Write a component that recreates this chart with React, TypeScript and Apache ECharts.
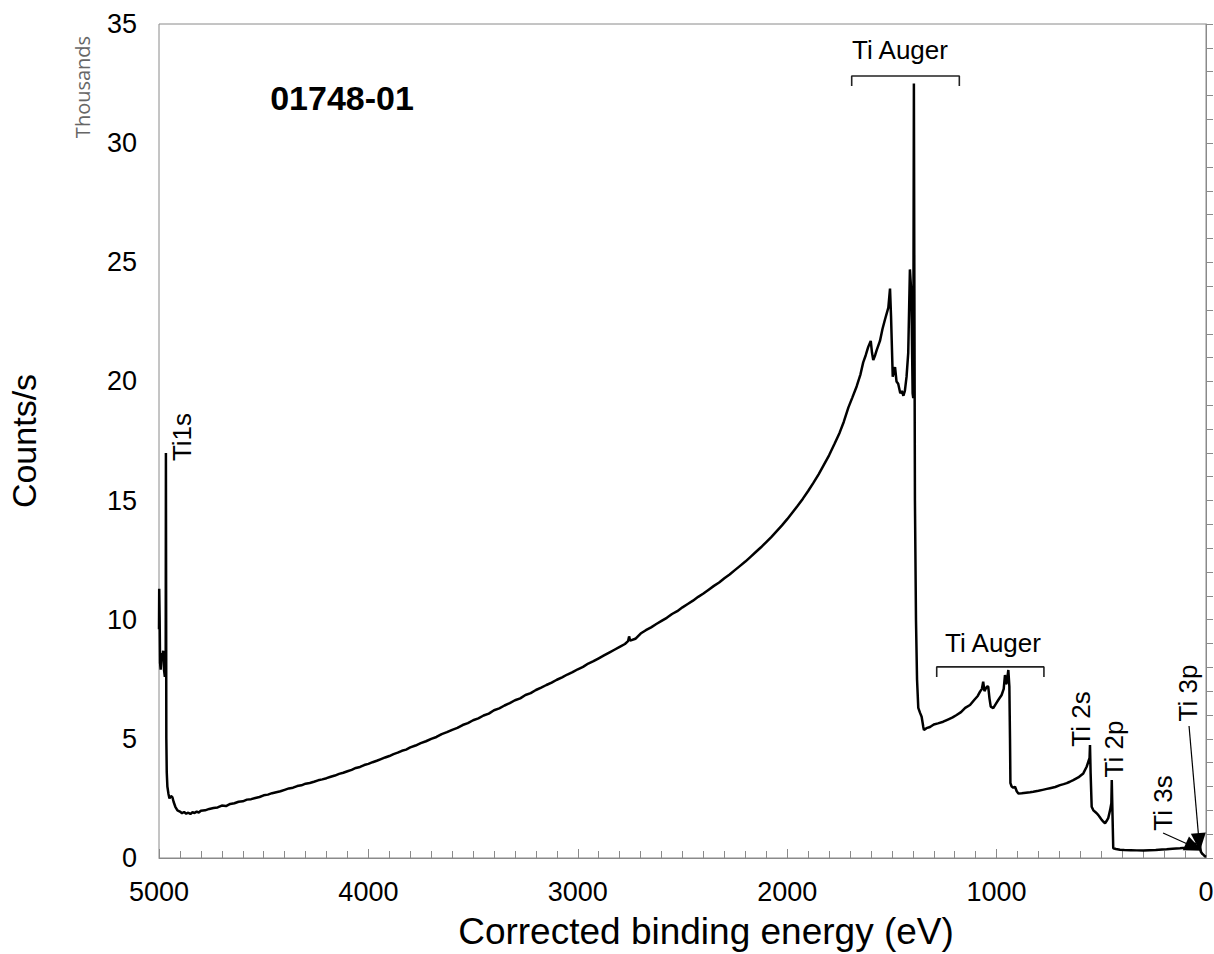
import React, { useEffect, useRef } from "react";
import * as echarts from "echarts";

// Binding energy (eV) and intensity (thousand counts/s)
const energy = [
  5000, 4999, 4997, 4995, 4992, 4988, 4984, 4980, 4976, 4972, 4968, 4967, 4965, 4963, 4960, 4955, 4950, 4943, 4936, 4930,
  4922, 4912, 4900, 4890, 4880, 4870, 4860, 4850, 4840, 4830, 4820, 4810, 4800, 4780, 4760, 4740, 4720, 4700, 4680, 4660,
  4640, 4620, 4600, 4580, 4560, 4540, 4520, 4500, 4480, 4460, 4440, 4420, 4400, 4380, 4360, 4340, 4320, 4300, 4280, 4260,
  4240, 4220, 4200, 4180, 4160, 4140, 4120, 4100, 4080, 4060, 4040, 4020, 4000, 3980, 3960, 3940, 3920, 3900, 3880, 3860,
  3840, 3820, 3800, 3775, 3750, 3725, 3700, 3675, 3650, 3625, 3600, 3575, 3550, 3525, 3500, 3475, 3450, 3425, 3400, 3375,
  3350, 3325, 3300, 3275, 3250, 3225, 3200, 3175, 3150, 3125, 3100, 3075, 3050, 3025, 3000, 2975, 2950, 2925, 2900, 2875,
  2850, 2825, 2800, 2775, 2760, 2755, 2750, 2725, 2700, 2675, 2650, 2625, 2600, 2575, 2550, 2525, 2500, 2475, 2450, 2425,
  2400, 2375, 2350, 2325, 2300, 2275, 2250, 2225, 2200, 2175, 2150, 2125, 2100, 2075, 2050, 2025, 2000, 1975, 1950, 1925,
  1900, 1875, 1850, 1825, 1800, 1775, 1750, 1730, 1708, 1690, 1668, 1650, 1637, 1625, 1613, 1601, 1595, 1589, 1580, 1573,
  1557, 1545, 1533, 1517, 1509, 1504, 1496, 1485, 1478, 1470, 1460, 1453, 1445, 1438, 1430, 1422, 1414, 1407, 1401, 1398,
  1395, 1393, 1390, 1385, 1380, 1374, 1366, 1358, 1350, 1347, 1335, 1318, 1300, 1280, 1255, 1230, 1210, 1191, 1170, 1150,
  1127, 1105, 1090, 1079, 1070, 1064, 1058, 1051, 1044, 1040, 1034, 1028, 1016, 1005, 992, 976, 966, 960, 955, 952,
  948, 944, 939, 936, 934, 928, 920, 912, 904, 896, 880, 860, 840, 825, 800, 780, 760, 745, 720, 697,
  680, 665, 650, 634, 610, 586, 570, 562, 556, 554, 551, 546, 538, 530, 522, 514, 506, 498, 490, 482,
  475, 467, 458, 452, 450, 448, 443, 430, 411, 390, 360, 330, 299, 270, 240, 210, 188, 160, 124, 100,
  80, 68, 60, 53, 48, 44, 38, 32, 28, 25, 18, 13, 6, 0,
];
const counts = [
  9.6, 11.3, 10.1, 8.2, 7.9, 8.6, 8.3, 8.7, 7.9, 7.6, 8.4, 17.0, 5.0, 3.6, 3.0, 2.7, 2.5, 2.6, 2.55, 2.35,
  2.15, 2.0, 1.95, 1.88, 1.93, 1.86, 1.9, 1.85, 1.92, 1.89, 1.95, 1.91, 1.98, 2.0, 2.06, 2.1, 2.12, 2.2, 2.18, 2.27,
  2.3, 2.36, 2.38, 2.45, 2.47, 2.52, 2.56, 2.63, 2.66, 2.72, 2.76, 2.8, 2.86, 2.92, 2.95, 3.02, 3.05, 3.12, 3.15, 3.2,
  3.26, 3.3, 3.35, 3.41, 3.46, 3.53, 3.58, 3.64, 3.7, 3.78, 3.82, 3.9, 3.95, 4.02, 4.08, 4.15, 4.22, 4.28, 4.36, 4.42,
  4.5, 4.55, 4.64, 4.72, 4.82, 4.9, 5.0, 5.08, 5.2, 5.28, 5.38, 5.46, 5.58, 5.66, 5.78, 5.86, 5.98, 6.06, 6.2, 6.28,
  6.4, 6.5, 6.62, 6.7, 6.84, 6.92, 7.05, 7.15, 7.26, 7.36, 7.48, 7.58, 7.7, 7.8, 7.92, 8.02, 8.16, 8.26, 8.38, 8.5,
  8.62, 8.74, 8.86, 8.98, 9.1, 9.3, 9.12, 9.2, 9.42, 9.56, 9.68, 9.82, 9.95, 10.08, 10.24, 10.36, 10.52, 10.66, 10.8, 10.96,
  11.1, 11.26, 11.42, 11.56, 11.74, 11.9, 12.08, 12.26, 12.44, 12.64, 12.84, 13.04, 13.26, 13.48, 13.72, 13.96, 14.22, 14.5, 14.78, 15.08,
  15.4, 15.74, 16.1, 16.5, 16.9, 17.36, 17.84, 18.3, 18.9, 19.3, 19.8, 20.3, 20.8, 21.1, 21.45, 21.7, 21.2, 20.9, 21.1, 21.3,
  21.7, 22.2, 22.6, 23.1, 23.9, 22.7, 20.2, 20.6, 20.0, 19.9, 19.5, 19.6, 19.4, 19.6, 20.2, 21.2, 24.7, 23.7, 19.5, 19.3,
  32.5, 25.0, 15.0, 10.0, 7.5, 6.3, 6.1, 5.93, 5.5, 5.37, 5.45, 5.5, 5.6, 5.65, 5.72, 5.82, 5.9, 6.0, 6.12, 6.3,
  6.42, 6.65, 6.8, 6.98, 7.1, 7.4, 7.0, 7.13, 7.2, 7.19, 6.7, 6.35, 6.29, 6.45, 6.63, 6.84, 7.1, 7.68, 7.3, 7.34,
  7.6, 7.89, 7.19, 5.0, 3.14, 3.0, 2.95, 2.99, 2.8, 2.71, 2.72, 2.74, 2.76, 2.78, 2.82, 2.86, 2.9, 2.93, 2.98, 3.06,
  3.1, 3.14, 3.2, 3.27, 3.38, 3.55, 3.83, 4.04, 4.2, 4.74, 3.56, 2.15, 2.0, 1.94, 1.88, 1.8, 1.7, 1.6, 1.52, 1.46,
  1.55, 1.67, 2.01, 2.3, 3.27, 2.43, 0.41, 0.38, 0.35, 0.34, 0.33, 0.32, 0.31, 0.33, 0.34, 0.36, 0.37, 0.39, 0.41, 0.43,
  0.45, 0.48, 0.55, 0.62, 0.5, 0.41, 0.5, 0.76, 0.5, 0.27, 0.18, 0.14, 0.08, 0.05,
];

// Auger brackets (eV, thousands)
const upperBracketX = [1692, 1692, 1178, 1178];
const upperBracketY = [32.4, 32.82, 32.82, 32.4];
const lowerBracketX = [1286, 1286, 774, 774];
const lowerBracketY = [7.6, 8.02, 8.02, 7.6];

// Arrows for Ti 3s and Ti 3p: [fromEV, fromY, toEV, toY]
const arrow3s = [205, 1.05, 57, 0.46];
const arrow3p = [81, 5.54, 33, 0.67];

const xTicks = [0, 1000, 2000, 3000, 4000, 5000];
const yTicks = [0, 5, 10, 15, 20, 25, 30, 35];

const FONT = "'Liberation Sans', Arial, Helvetica, sans-serif";

export default function App() {
  const ref = useRef<HTMLDivElement>(null);
  useEffect(() => {
    document.body.style.margin = "0";
    const chart = echarts.init(ref.current!, null, { renderer: "svg" });
    const spectrum = energy.map((e, i) => [e, counts[i]]);
    const bracket = (xs: number[], ys: number[]) => xs.map((x, i) => [x, ys[i]]);
    const label = (text: string, x: number, y: number, rot: number, size = 26, weight = "normal") => ({
      type: "text",
      x,
      y,
      rotation: rot,
      style: {
        text,
        fill: "#000",
        font: `${weight} ${size}px ${FONT}`,
        textAlign: "center",
        textVerticalAlign: "middle",
      },
    });
    chart.setOption({
      animation: false,
      backgroundColor: "#fff",
      grid: {
        left: 159,
        top: 24,
        right: 8,
        bottom: 96,
        containLabel: false,
        outerBoundsMode: "none",
        show: true,
        borderColor: "#8a8a8a",
        borderWidth: 1,
      },
      xAxis: {
        type: "value",
        inverse: true,
        min: xTicks[0],
        max: xTicks[xTicks.length - 1],
        interval: 1000,
        axisLine: { lineStyle: { color: "#8a8a8a", width: 1 } },
        axisTick: { inside: true, length: 9, lineStyle: { color: "#8a8a8a" } },
        minorTick: { show: true, splitNumber: 10, length: 7, lineStyle: { color: "#8a8a8a" } },
        splitLine: { show: false },
        axisLabel: {
          fontSize: 27,
          color: "#000",
          fontFamily: FONT,
          margin: 20,
          formatter: (v: number) => String(v),
        },
      },
      yAxis: {
        type: "value",
        min: yTicks[0],
        max: yTicks[yTicks.length - 1],
        interval: 5,
        axisLine: { show: true, lineStyle: { color: "#8a8a8a", width: 1 } },
        axisTick: { show: true, inside: true, length: 7, lineStyle: { color: "#8a8a8a" } },
        minorTick: { show: true, splitNumber: 5, length: 7, lineStyle: { color: "#8a8a8a" } },
        splitLine: { show: false },
        axisLabel: {
          fontSize: 27,
          color: "#000",
          fontFamily: FONT,
          margin: 22,
          formatter: (v: number) => String(v),
        },
      },
      series: [
        {
          type: "line",
          data: spectrum,
          showSymbol: false,
          symbol: "none",
          lineStyle: { color: "#000", width: 2.5 },
          silent: true,
          z: 3,
        },
        {
          type: "line",
          data: bracket(upperBracketX, upperBracketY),
          symbol: "none",
          lineStyle: { color: "#222", width: 1.6 },
          silent: true,
        },
        {
          type: "line",
          data: bracket(lowerBracketX, lowerBracketY),
          symbol: "none",
          lineStyle: { color: "#222", width: 1.6 },
          silent: true,
        },
        {
          type: "line",
          data: [],
          silent: true,
          markLine: {
            silent: true,
            animation: false,
            symbol: ["none", "triangle"],
            symbolSize: [15, 18],
            label: { show: false },
            lineStyle: { color: "#000", width: 1.2, type: "solid" },
            itemStyle: { color: "#000" },
            data: [
              [{ coord: [arrow3s[0], arrow3s[1]] }, { coord: [arrow3s[2], arrow3s[3]] }],
              [{ coord: [arrow3p[0], arrow3p[1]] }, { coord: [arrow3p[2], arrow3p[3]] }],
            ],
          },
        },
      ],
      graphic: [
        label("01748-01", 342, 98, 0, 34, "bold"),
        {
          type: "text",
          x: 82,
          y: 87,
          rotation: Math.PI / 2,
          style: {
            text: "Thousands",
            fill: "#666",
            font: `20px 'Open Sans', sans-serif`,
            textAlign: "center",
            textVerticalAlign: "middle",
          },
        },
        label("Counts/s", 24, 441, Math.PI / 2, 34),
        label("Corrected binding energy (eV)", 706, 931, 0, 37),
        label("Ti Auger", 900, 50, 0),
        label("Ti Auger", 993, 643, 0),
        label("Ti1s", 182, 437, Math.PI / 2),
        label("Ti 2s", 1081, 719, Math.PI / 2),
        label("Ti 2p", 1114, 749, Math.PI / 2),
        label("Ti 3s", 1163, 803, Math.PI / 2),
        label("Ti 3p", 1188, 693, Math.PI / 2),
      ],
    });
    return () => chart.dispose();
  }, []);
  return <div ref={ref} style={{ width: 1214, height: 954 }} />;
}
